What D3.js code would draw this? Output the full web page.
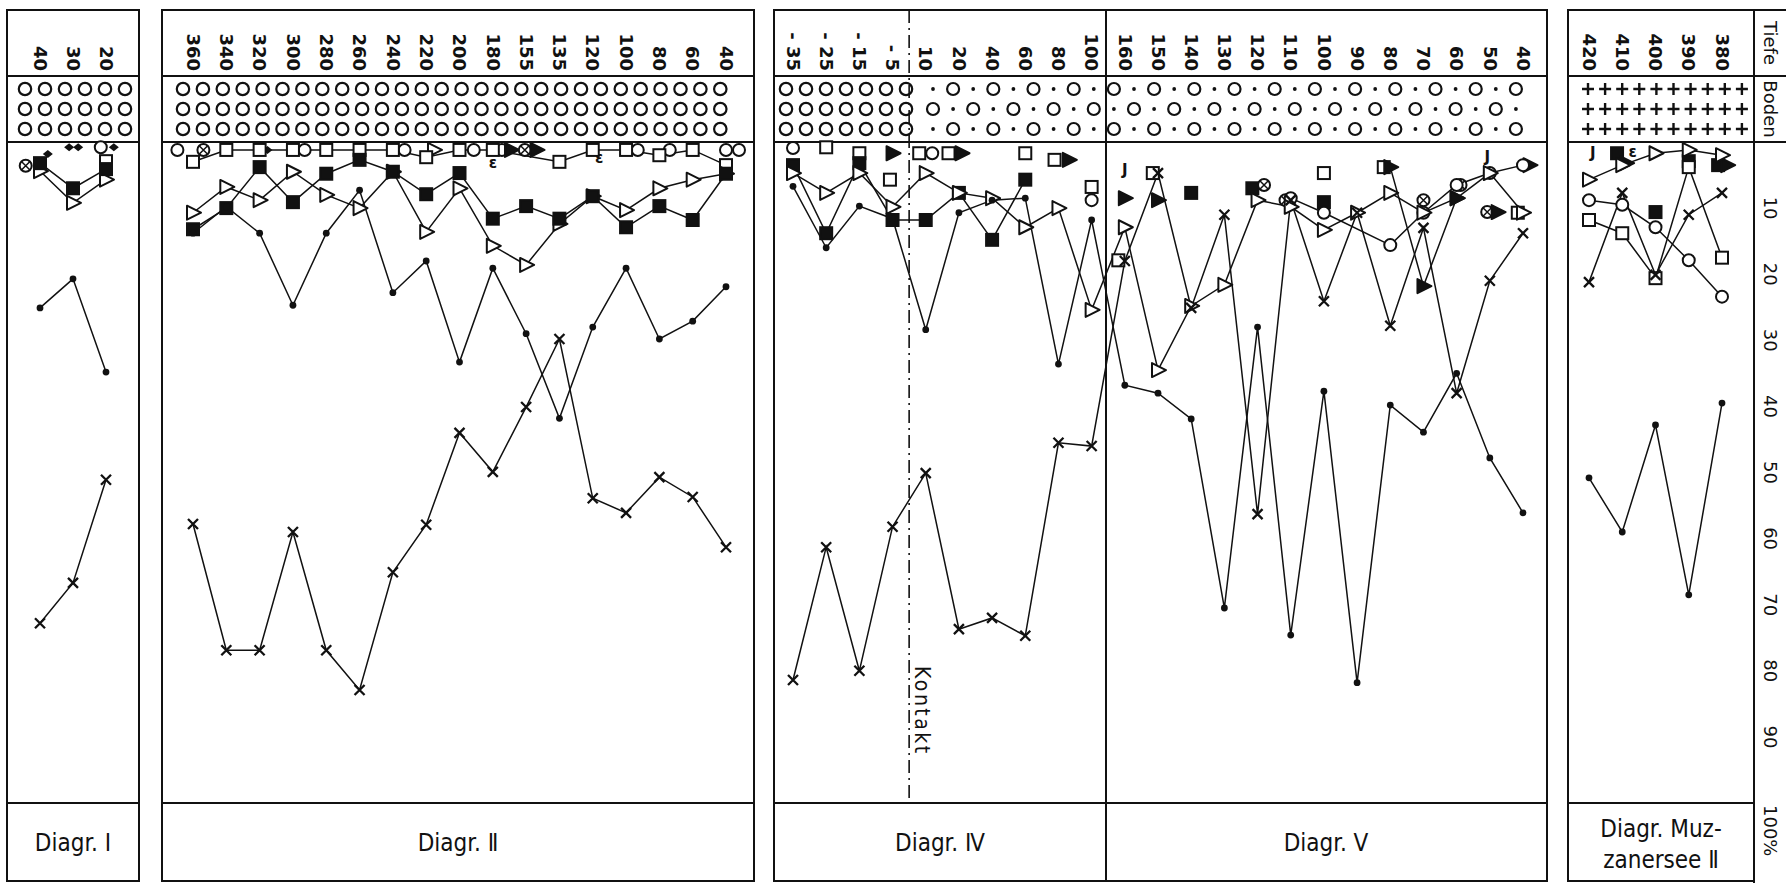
<!DOCTYPE html>
<html>
<head>
<meta charset="utf-8">
<script src="https://cdn.jsdelivr.net/npm/d3@7"></script>
<style>
  body { margin: 0; background: #fff; }
  text { font-family: "DejaVu Sans", sans-serif; fill: #111; }
</style>
</head>
<body>
<svg id="chart" width="1786" height="883"></svg>
<script>
// depths (cm) shown in the header of each diagram
const catsI = ["40", "30", "20"];
const catsII = ["360", "340", "320", "300", "280", "260", "240", "220", "200", "180", "155", "135", "120", "100", "80", "60", "40"];
const catsIV = ["-35", "-25", "-15", "-5", "10", "20", "40", "60", "80", "100"];
const catsV = ["160", "150", "140", "130", "120", "110", "100", "90", "80", "70", "60", "50", "40"];
const catsMuz = ["420", "410", "400", "390", "380"];
const tiefeTicks = [10, 20, 30, 40, 50, 60, 70, 80, 90, 100];

// percent values per depth, null = no point
const I_dot = [25.1, 20.7, 34.8];
const I_cross = [72.8, 66.7, 51.1];
const I_sqf = [3.2, 7.0, 4.1];
const I_tri = [4.4, 9.2, 5.7];

const II_dot = [13.8, 9.8, 13.8, 24.7, 13.8, 7.3, 22.8, 18.0, 33.3, 19.1, 29.0, 41.8, 28.0, 19.1, 29.8, 27.1, 21.9];
const II_cross = [57.8, 76.9, 76.9, 59.0, 76.9, 82.9, 65.1, 57.9, 44.0, 49.9, 40.1, 29.8, 53.9, 56.1, 50.7, 53.7, 61.3];
const II_sqf = [13.2, 10.0, 3.8, 9.1, 4.8, 2.7, 4.5, 7.9, 4.7, 11.6, 9.7, 11.6, 8.2, 12.9, 9.7, 11.8, 4.8];
const II_tri = [10.7, 6.8, 8.8, 4.5, 8.0, 10.0, 4.5, 13.6, 7.0, 15.7, 18.6, 12.4, 8.2, 10.3, 7.0, 5.7, 4.8];
const II_sqo = [3.0, 1.2, 1.2, 1.2, 1.2, 1.2, 1.2, 2.3, 1.2, 1.2, null, 3.0, 1.2, 1.2, 2.0, 1.2, 3.5];

const IV_dot = [6.7, 16.0, 9.7, 11.6, 28.4, 10.7, 8.8, 8.5, 33.6, 11.8];
const IV_cross = [81.4, 61.3, 80.0, 58.2, 50.1, 73.7, 72.0, 74.7, 45.5, 46.0];
const IV_sqf = [3.5, 13.8, 3.2, 11.8, 11.8, 7.7, 14.8, 5.7, null, null];
const IV_tri = [4.7, 7.7, 4.7, 9.8, 4.7, 7.7, 8.5, 12.9, 10.0, 25.4];

const V_dot = [36.8, 38.0, 41.9, 70.5, 28.0, 74.6, 37.7, 81.8, 39.8, 43.9, 35.0, 47.8, 56.1];
const V_cross = [18.0, 4.7, 25.1, 11.0, 56.3, 8.8, 24.1, 10.7, 27.8, 13.0, 38.0, 21.0, 13.8];
const V_tri = [12.9, 34.5, 24.8, 21.6, 8.8, 9.8, 13.3, 10.7, 7.7, 10.7, 8.5, 4.7, 10.7];
const V_circ = [null, null, null, null, null, 8.5, 10.7, null, 15.6, 10.7, 6.5, 4.7, 3.5];
const V_trif = [null, null, null, null, null, null, null, null, 3.8, 21.8, 8.5, null, null];

const Muz_dot = [50.8, 59.0, 42.8, 68.5, 39.5];
const Muz_cross = [21.2, 7.7, 20.1, 11.0, 7.7];
const Muz_tri = [5.7, 3.5, 1.7, 1.2, 2.0];
const Muz_sqo = [11.8, 13.8, 20.6, 3.8, 17.5];
const Muz_circ = [8.8, 9.5, 12.9, 17.9, 23.4];

// single finds: [depth, symbol, order within the cluster, percent]
const I_single = [["40", "otimes", -1.1, 3.6], ["40", "sm", 0.6, 1.8], ["30", "sm", -0.3, 0.8], ["30", "sm", 0.4, 0.8],
  ["20", "circ", -0.4, 0.8], ["20", "sm", 0.6, 0.8], ["20", "sqo", 0, 2.9]];
const II_single = [["360", "circ", -1.2, 1.2], ["360", "otimes", 0.8, 1.2], ["320", "sm", 0.6, 1.2], ["300", "circ", 0.9, 1.2],
  ["240", "circ", 0.9, 1.2], ["220", "tri", 0.6, 1.2], ["200", "circ", 1.1, 1.2], ["180", "circ", 0.7, 1.2],
  ["180", "trif", 1.4, 1.2], ["180", "eps", 0, 3.2], ["155", "otimes", -0.1, 1.2], ["155", "trif", 0.8, 1.2],
  ["120", "eps", 0.5, 2.4], ["100", "circ", 0.9, 1.2], ["80", "circ", 0.8, 1.2], ["40", "circ", 0, 1.2], ["40", "circ", 1, 1.2]];
const IV_single = [["-35", "circ", 0, 0.9], ["-25", "sqo", 0, 0.8], ["-15", "sqo", 0, 1.7], ["-5", "trif", 0, 1.7],
  ["-5", "sqo", -0.2, 5.7], ["10", "sqo", -0.5, 1.7], ["10", "circ", 0.5, 1.7], ["20", "sqo", -0.8, 1.7],
  ["20", "trif", 0.2, 1.7], ["60", "sqo", 0, 1.7], ["80", "sqo", -0.3, 2.7], ["80", "trif", 0.8, 2.7],
  ["100", "sqo", 0, 6.8], ["100", "circ", 0, 8.8]];
const V_single = [["160", "sqo", -0.5, 17.9], ["160", "trif", 0, 8.5], ["160", "hook", 0, 4.2], ["150", "sqo", -0.4, 4.7],
  ["150", "trif", 0, 8.8], ["140", "sqf", 0, 7.7], ["120", "sqf", -0.4, 7.0], ["120", "otimes", 0.5, 6.5],
  ["110", "otimes", -0.4, 8.8], ["100", "sqo", 0, 4.7], ["100", "sqf", 0, 9.1], ["80", "sqo", -0.5, 3.8],
  ["70", "otimes", 0, 8.8], ["60", "otimes", 0.3, 6.5], ["50", "otimes", -0.2, 10.6], ["50", "trif", 0.6, 10.6],
  ["50", "hook", -0.2, 2.3], ["40", "trif", 0.5, 3.5], ["40", "sqo", -0.4, 10.7]];
const Muz_single = [["420", "hook", 0.3, 1.7], ["410", "sqf", -0.4, 1.7], ["410", "trif", 0.3, 3.2], ["410", "eps", 0.8, 1.5],
  ["390", "sqf", 0, 2.9], ["380", "sqf", -0.3, 3.5], ["380", "trif", 0.4, 3.5], ["400", "sqf", 0, 10.6]];

const svg = d3.select("#chart");
const TOP = 10, HEAD = 76, SOIL = 142, FOOT = 803, BOTTOM = 881;
const y = d3.scaleLinear().domain([0, 100]).range([SOIL, FOOT]);
const ink = "#111";
const condensed = "'DejaVu Sans Condensed', 'DejaVu Sans', sans-serif";

// Diagr. IV and V share one frame and their curves run across the divider
const key = (pre, c) => pre + "|" + c;
const catsIVV = catsIV.map(c => key("IV", c)).concat(catsV.map(c => key("V", c)));
const pad = (a, n) => a.concat(new Array(n).fill(null));
const lead = (n, a) => new Array(n).fill(null).concat(a);
const tagged = (pre, list) => list.map(([c, s, k, v]) => [key(pre, c), s, k, v]);

const panels = [
  {cats: catsI, range: [40, 106], labels: [[["Diagr. Ⅰ"], 73]],
   series: [[I_tri, "tri"], [I_sqf, "sqf"], [I_dot, "dot"], [I_cross, "cross"]], single: I_single},
  {cats: catsII, range: [193, 726], labels: [[["Diagr. Ⅱ"], 458]],
   series: [[II_sqo, "sqo"], [II_tri, "tri"], [II_sqf, "sqf"], [II_dot, "dot"], [II_cross, "cross"]], single: II_single},
  {cats: catsIVV, range: [793, 1523], labels: [[["Diagr. Ⅳ"], 940], [["Diagr. Ⅴ"], 1326]],
   series: [[pad(IV_sqf, catsV.length), "sqf"], [lead(catsIV.length, V_circ), "circ"],
            [IV_tri.concat(V_tri), "tri"], [lead(catsIV.length, V_trif), "trif", true],
            [IV_dot.concat(V_dot), "dot"], [IV_cross.concat(V_cross), "cross"]],
   single: tagged("IV", IV_single).concat(tagged("V", V_single))},
  {cats: catsMuz, range: [1589, 1722], labels: [[["Diagr. Muz-", "zanersee Ⅱ"], 1661]],
   series: [[Muz_tri, "tri"], [Muz_sqo, "sqo"], [Muz_circ, "circ"], [Muz_cross, "cross"], [Muz_dot, "dot"]], single: Muz_single}
];

function mark(g, sym, cx, cy) {
  if (sym === "dot") {
    g.append("circle").attr("cx", cx).attr("cy", cy).attr("r", 3.4).attr("fill", ink);
  } else if (sym === "cross") {
    g.append("path").attr("d", `M${cx - 5},${cy - 5}L${cx + 5},${cy + 5}M${cx - 5},${cy + 5}L${cx + 5},${cy - 5}`)
      .attr("stroke", ink).attr("stroke-width", 2.3);
  } else if (sym === "sqf" || sym === "sqo") {
    g.append("rect").attr("x", cx - 6).attr("y", cy - 6).attr("width", 12).attr("height", 12)
      .attr("fill", sym === "sqf" ? ink : "#fff").attr("stroke", ink).attr("stroke-width", 2);
  } else if (sym === "tri" || sym === "trif") {
    g.append("path").attr("d", `M${cx - 6},${cy - 7}L${cx + 8},${cy}L${cx - 6},${cy + 7}Z`)
      .attr("fill", sym === "trif" ? ink : "#fff").attr("stroke", ink).attr("stroke-width", 2).attr("stroke-linejoin", "round");
  } else if (sym === "circ" || sym === "otimes") {
    g.append("circle").attr("cx", cx).attr("cy", cy).attr("r", 6).attr("fill", "#fff").attr("stroke", ink).attr("stroke-width", 2);
    if (sym === "otimes") {
      g.append("path").attr("d", `M${cx - 4},${cy - 4}L${cx + 4},${cy + 4}M${cx - 4},${cy + 4}L${cx + 4},${cy - 4}`)
        .attr("stroke", ink).attr("stroke-width", 1.5);
    }
  } else if (sym === "sm") {
    g.append("path").attr("d", `M${cx},${cy - 4}L${cx + 5},${cy}L${cx},${cy + 4}L${cx - 5},${cy}Z`).attr("fill", ink);
  } else if (sym === "hook" || sym === "eps") {
    g.append("text").attr("x", cx).attr("y", cy).attr("dy", "0.35em").attr("text-anchor", "middle")
      .style("font-size", "15px").style("font-weight", "bold").text(sym === "hook" ? "J" : "ε");
  }
}

// soil ("Boden") symbol rows
function soilRows(g, x0, x1, step, kind) {
  [89, 109, 129].forEach((ry, r) => {
    let i = 0;
    for (let x = x0; x <= x1 + 0.1; x += step, i++) {
      if (kind === "circles") {
        g.append("circle").attr("cx", x).attr("cy", ry).attr("r", 6.2).attr("fill", "none").attr("stroke", ink).attr("stroke-width", 2.2);
      } else if (kind === "plus") {
        g.append("path").attr("d", `M${x - 6},${ry}H${x + 6}M${x},${ry - 6}V${ry + 6}`).attr("stroke", ink).attr("stroke-width", 2.4);
      } else if ((i + r) % 2 === 1) {
        g.append("circle").attr("cx", x).attr("cy", ry).attr("r", 6).attr("fill", "none").attr("stroke", ink).attr("stroke-width", 2.2);
      } else {
        g.append("circle").attr("cx", x).attr("cy", ry).attr("r", 1.9).attr("fill", ink);
      }
    }
  });
}

const frame = svg.append("g");
const soil = svg.append("g");

// outer boxes
const boxes = [[7, 139], [162, 754], [774, 1547], [1568, 1754]];
boxes.forEach(([a, b]) => {
  frame.append("rect").attr("x", a).attr("y", TOP).attr("width", b - a).attr("height", BOTTOM - TOP)
    .attr("fill", "none").attr("stroke", ink).attr("stroke-width", 2);
  [HEAD, SOIL, FOOT].forEach(ly => frame.append("line").attr("x1", a).attr("x2", b).attr("y1", ly).attr("y2", ly)
    .attr("stroke", ink).attr("stroke-width", 2));
});
// divider between Diagr. IV and V
frame.append("line").attr("x1", 1106).attr("x2", 1106).attr("y1", TOP).attr("y2", BOTTOM).attr("stroke", ink).attr("stroke-width", 2);
// Tiefe / Boden column
[TOP, HEAD, SOIL].forEach(ly => frame.append("line").attr("x1", 1754).attr("x2", 1786).attr("y1", ly).attr("y2", ly)
  .attr("stroke", ink).attr("stroke-width", 2));
frame.append("line").attr("x1", 1754).attr("x2", 1754).attr("y1", TOP).attr("y2", 883).attr("stroke", ink).attr("stroke-width", 2);

soilRows(soil, 25, 125, 20, "circles");
soilRows(soil, 183, 740, 19.9, "circles");
soilRows(soil, 786, 906, 20, "circles");
soilRows(soil, 933, 1535, 20.1, "mixed");
soilRows(soil, 1588, 1742, 17.1, "plus");

// contact line in Diagr. IV
const xIVV = d3.scalePoint().domain(catsIVV).range([793, 1523]);
const xKontakt = (xIVV(key("IV", "-5")) + xIVV(key("IV", "10"))) / 2;
frame.append("line").attr("x1", xKontakt).attr("x2", xKontakt).attr("y1", TOP).attr("y2", FOOT)
  .attr("stroke", ink).attr("stroke-width", 1.6).attr("stroke-dasharray", "13,5,2,5");
frame.append("text").attr("transform", `translate(${xKontakt + 13},666) rotate(90)`).attr("dy", "0.35em")
  .style("font-size", "21px").style("letter-spacing", "2.5px").style("font-family", condensed).text("Kontakt");

panels.forEach(p => {
  const x = d3.scalePoint().domain(p.cats).range(p.range);
  const g = svg.append("g");

  // depth labels
  g.selectAll("text.depth").data(p.cats).enter().append("text")
    .attr("class", "depth")
    .attr("transform", d => `translate(${x(d)},71) rotate(90)`)
    .attr("text-anchor", "end").attr("dy", "0.35em")
    .style("font-size", "18px").style("font-weight", "bold")
    .text(d => {
      const t = d.split("|").pop();
      return t.startsWith("-") ? "- " + t.slice(1) : t;
    });

  // connected series
  p.series.forEach(([vals, sym, gaps]) => {
    const pts = p.cats.map((c, i) => [c, vals[i]]);
    const line = d3.line().x(d => x(d[0])).y(d => y(d[1]));
    if (gaps) line.defined(d => d[1] != null);
    g.append("path").datum(gaps ? pts : pts.filter(d => d[1] != null))
      .attr("d", line).attr("fill", "none").attr("stroke", ink).attr("stroke-width", 1.5);
  });
  p.single.forEach(([c, sym, k, v]) => mark(g, sym, x(c) + k * 13, y(v)));
  p.series.forEach(([vals, sym]) => {
    p.cats.forEach((c, i) => { if (vals[i] != null) mark(g, sym, x(c), y(vals[i])); });
  });

  // diagram names
  p.labels.forEach(([lines, cx]) => {
    const lab = g.append("text").attr("text-anchor", "middle").style("font-size", "24px").style("font-family", condensed);
    if (lines.length === 1) lab.attr("x", cx).attr("y", 851).text(lines[0]);
    else lines.forEach((t, i) => lab.append("tspan").attr("x", cx).attr("y", 837 + i * 31).text(t));
  });
});

// depth / percent column at the right
const side = svg.append("g");
side.append("text").attr("transform", `translate(1770,${(TOP + HEAD) / 2}) rotate(90)`)
  .attr("text-anchor", "middle").attr("dy", "0.35em").style("font-size", "18px").text("Tiefe");
side.append("text").attr("transform", `translate(1770,${(HEAD + SOIL) / 2}) rotate(90)`)
  .attr("text-anchor", "middle").attr("dy", "0.35em").style("font-size", "18px").text("Boden");
side.selectAll("text.tick").data(tiefeTicks).enter().append("text")
  .attr("class", "tick")
  .attr("transform", d => `translate(1770,${d === 100 ? y(d) + 2 : y(d)}) rotate(90)`)
  .attr("text-anchor", d => d === 100 ? "start" : "middle").attr("dy", "0.35em")
  .style("font-size", "18px")
  .text(d => d === 100 ? "100%" : d);
</script>
</body>
</html>
